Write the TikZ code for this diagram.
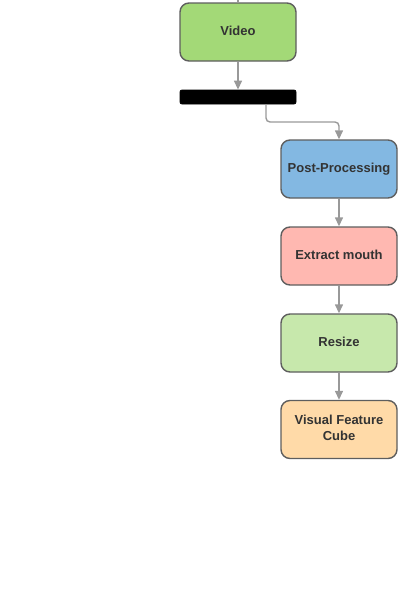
\documentclass[tikz,border=0pt]{standalone}
\usepackage{fontspec}
\setmainfont{Liberation Sans}
\usetikzlibrary{arrows.meta}
\definecolor{vgreen}{HTML}{A3D977}
\definecolor{ppblue}{HTML}{83B8E2}
\definecolor{empink}{HTML}{FFB8B1}
\definecolor{rsgreen}{HTML}{C7E8AC}
\definecolor{vforange}{HTML}{FFDAA8}
\definecolor{bordergray}{HTML}{5E5E5E}
\definecolor{arrowgray}{HTML}{999999}
\newcommand{\boxtext}[1]{\raisebox{2pt}{\begin{tabular}{@{}c@{}}#1\end{tabular}}}
\tikzset{
  x=1pt, y=-1pt,
  box/.style={draw=bordergray, line width=1.4pt, rounded corners=9pt,
    minimum width=116pt, minimum height=58pt, inner sep=2pt,
    font=\bfseries\fontsize{13}{16}\selectfont, text=black!80, align=center},
  bar/.style={draw=black, fill=black, rounded corners=2pt, line width=0.8pt,
    minimum width=116pt, minimum height=14pt, inner sep=0pt},
  conn/.style={draw=arrowgray, line width=1.4pt, rounded corners=4pt,
    -{Triangle[length=9pt,width=8pt]}},
  stub/.style={draw=arrowgray, line width=1.4pt}
}
\begin{document}
\begin{tikzpicture}
\useasboundingbox (0,0) rectangle (400,606);
\node[box, fill=vgreen] (video) at (238,32) {\boxtext{Video}};
\node[bar] (bar) at (238,97) {};
\node[box, fill=ppblue] (pp) at (339,169) {\boxtext{Post-Processing}};
\node[box, fill=empink] (em) at (339,256) {\boxtext{Extract mouth}};
\node[box, fill=rsgreen] (rs) at (339,343) {\boxtext{Resize}};
\node[box, fill=vforange] (vf) at (339,429.5) {\boxtext{Visual Feature\\Cube}};
\coordinate (top) at (238,0);
\draw[stub] (top) -- (video.north);
\draw[conn] (video.south) -- (bar.north);
\draw[conn] (bar.south -| 266,0) |- (300,122) -| (pp.north);
\draw[conn] (pp.south) -- (em.north);
\draw[conn] (em.south) -- (rs.north);
\draw[conn] (rs.south) -- (vf.north);
\end{tikzpicture}
\end{document}
